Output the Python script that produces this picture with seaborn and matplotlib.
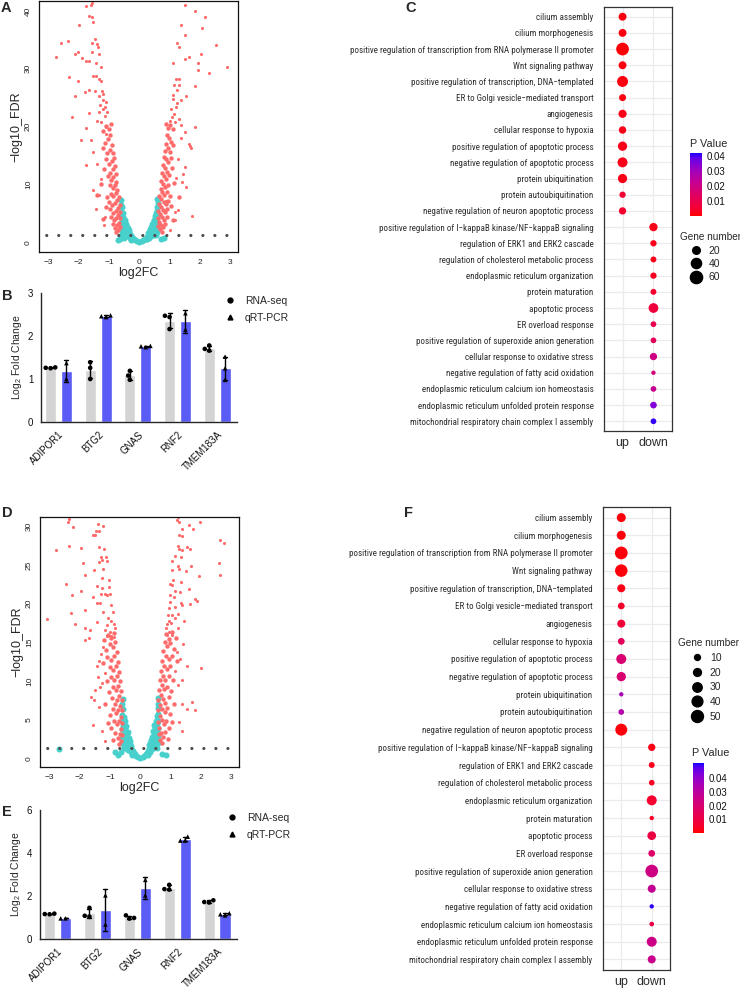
import matplotlib

matplotlib.use("Agg")

import matplotlib.pyplot as plt
import numpy as np
import pandas as pd
import seaborn as sns
from matplotlib import font_manager
from matplotlib.cm import ScalarMappable
from matplotlib.colors import ListedColormap, Normalize
from matplotlib.font_manager import FontProperties
from matplotlib.lines import Line2D

# ---------------------------------------------------------------- volcano A
# (log2FC, -log10 FDR); scattered genes far from the arms
A_OUT_L = [(-2.73, 32.0), (-2.58, 34.4), (-2.36, 34.8), (-2.31, 28.5), (-2.11, 32.6), (-2.0, 32.8),
           (-1.98, 37.6), (-2.0, 27.8), (-2.11, 25.2), (-2.2, 21.7), (-1.93, 17.7), (-1.76, 13.4),
           (-1.74, 40.9), (-1.6, 41.0), (-1.56, 41.4), (-1.67, 39.1), (-1.54, 38.9), (-1.52, 38.0),
           (-1.45, 35.1), (-1.56, 34.5), (-1.38, 34.3), (-1.36, 33.7), (-1.34, 32.5), (-1.74, 31.4),
           (-1.89, 31.8), (-1.65, 31.4), (-1.43, 30.9), (-1.52, 28.8), (-1.41, 28.7), (-1.32, 28.2),
           (-1.26, 27.9), (-1.67, 26.3), (-1.45, 26.2), (-1.23, 26.2), (-1.78, 25.9), (-1.32, 25.3),
           (-1.19, 24.5), (-1.67, 22.4), (-1.34, 22.5), (-1.12, 23.4), (-1.14, 21.8), (-1.1, 19.9),
           (-1.08, 18.7), (-1.75, 19.8), (-1.6, 17.6), (-1.51, 15.6), (-1.38, 13.6), (-1.51, 9.0),
           (-1.43, 5.8), (-1.16, 2.9), (-1.13, 4.4), (-1.26, 11.0), (-1.32, 8.1), (-1.27, 30.3),
           (-1.54, 32.9), (-1.2, 23.0), (-1.05, 22.5), (-1.25, 20.8), (-1.08, 24.2), (-1.18, 25.6),
           (-1.3, 23.8), (-1.38, 21.0)]
A_OUT_R = [(1.49, 41.0), (1.84, 39.9), (2.15, 39.0), (2.07, 37.0), (1.38, 37.6), (1.51, 35.8),
           (2.53, 34.1), (1.24, 34.4), (1.30, 33.7), (2.04, 32.6), (1.63, 32.1), (1.52, 31.6),
           (1.93, 31.0), (2.88, 30.3), (1.1, 30.9), (1.93, 29.8), (2.29, 29.2), (1.21, 28.2),
           (1.13, 27.2), (1.32, 27.1), (1.24, 26.3), (1.82, 27.0), (1.54, 25.2), (1.1, 25.5),
           (1.38, 24.5), (1.21, 23.3), (1.08, 21.7), (1.32, 21.3), (1.82, 20.0), (1.52, 19.0),
           (1.38, 18.0), (1.65, 17.0), (1.71, 16.3), (1.52, 13.0), (1.4, 10.4), (1.27, 14.3),
           (1.21, 11.1), (1.73, 4.5), (1.19, 5.2), (1.01, 2.1), (0.88, 7.1), (1.43, 11.8),
           (1.67, 16.7), (1.37, 20.3), (1.54, 9.5), (1.26, 5.5), (1.16, 3.8), (1.05, 23.0),
           (1.15, 22.2), (1.25, 24.0), (1.12, 24.8), (1.18, 20.8), (1.0, 21.0), (1.3, 28.2)]
# dense red arms just outside the fold-change cut
A_ARM_L = [(-0.92, 20.4), (-1.0, 19.6), (-1.08, 20.1), (-1.18, 19.2), (-0.95, 18.5), (-1.03, 17.8),
           (-1.12, 17.2), (-0.9, 16.8), (-0.97, 16.0), (-1.06, 15.4), (-0.86, 15.5), (-1.2, 16.2),
           (-0.84, 14.6), (-0.91, 14.1), (-0.99, 13.6), (-1.1, 14.4), (-0.81, 13.1), (-0.88, 12.6),
           (-0.95, 12.0), (-1.15, 12.7), (-0.78, 11.8), (-0.85, 11.2), (-0.92, 10.7), (-1.02, 11.4),
           (-0.75, 10.4), (-0.81, 9.8), (-0.88, 9.3), (-0.97, 9.8), (-1.25, 10.0), (-0.72, 9.0),
           (-0.78, 8.5), (-0.85, 8.0), (-0.93, 8.4), (-1.05, 7.8), (-0.68, 7.8), (-0.74, 7.3),
           (-0.81, 6.8), (-0.89, 6.4), (-0.99, 7.0), (-0.65, 6.5), (-0.71, 5.9), (-0.78, 5.4),
           (-0.86, 5.0), (-0.95, 5.7), (-0.63, 5.3), (-0.69, 4.7), (-0.75, 4.2), (-0.83, 3.8),
           (-0.92, 4.3), (-0.62, 4.1), (-0.67, 3.4), (-0.73, 2.9), (-0.8, 2.5), (-0.63, 2.7),
           (-0.69, 2.1), (-0.88, 3.1), (-0.76, 1.8), (-1.1, 6.1), (-1.18, 4.0), (-1.4, 8.2)]
A_ARM_R = [(0.88, 20.5), (0.95, 19.8), (1.02, 20.2), (1.1, 19.5), (0.9, 18.6), (0.98, 18.0),
           (1.05, 17.4), (0.87, 17.0), (0.93, 16.2), (1.0, 15.6), (0.84, 15.8), (1.12, 16.8),
           (0.8, 14.8), (0.88, 14.3), (0.95, 13.8), (1.03, 14.6), (0.78, 13.4), (0.85, 12.9),
           (0.92, 12.2), (1.08, 12.8), (0.76, 12.0), (0.82, 11.4), (0.89, 10.9), (0.98, 11.6),
           (0.72, 10.6), (0.79, 10.0), (0.86, 9.5), (0.94, 9.9), (1.15, 10.2), (0.7, 9.2),
           (0.75, 8.6), (0.83, 8.1), (0.9, 8.6), (1.0, 8.0), (0.66, 8.0), (0.72, 7.4),
           (0.8, 7.0), (0.87, 6.6), (0.95, 7.2), (0.64, 6.6), (0.7, 6.0), (0.77, 5.6),
           (0.84, 5.2), (0.92, 5.8), (0.62, 5.4), (0.68, 4.8), (0.74, 4.3), (0.81, 3.9),
           (0.9, 4.4), (0.61, 4.2), (0.66, 3.5), (0.72, 3.0), (0.78, 2.6), (0.62, 2.8),
           (0.68, 2.2), (0.86, 3.2), (0.75, 1.8), (1.05, 6.3), (1.12, 3.9), (1.3, 7.8)]
# not significant genes (turquoise)
A_NS = [(-0.6, 7.3), (-0.61, 6.5), (-0.58, 6.0), (-0.6, 5.2), (-0.55, 5.0), (-0.6, 4.3), (-0.56, 4.0),
        (-0.52, 4.4), (-0.6, 3.4), (-0.55, 3.1), (-0.5, 3.5), (-0.47, 3.8), (-0.6, 2.5), (-0.55, 2.3),
        (-0.5, 2.6), (-0.45, 2.9), (-0.42, 3.1), (-0.58, 1.7), (-0.52, 1.6), (-0.47, 2.0), (-0.42, 2.3),
        (-0.38, 2.5), (-0.35, 2.1), (-0.55, 1.1), (-0.48, 1.2), (-0.43, 1.5), (-0.38, 1.8), (-0.33, 1.7),
        (-0.3, 1.4), (-0.4, 1.0), (-0.35, 1.2), (-0.28, 1.0), (-0.25, 0.9), (-0.32, 0.7), (-0.22, 0.6),
        (-0.18, 0.5), (-0.26, 0.45), (-0.13, 0.3), (-0.08, 0.12), (-0.6, 1.0), (-0.65, 0.5),
        (-0.7, 0.4), (-0.5, 0.8), (0.6, 7.5), (0.61, 6.8), (0.58, 6.1), (0.6, 5.4), (0.55, 5.1),
        (0.6, 4.5), (0.56, 4.1), (0.52, 4.6), (0.6, 3.5), (0.55, 3.2), (0.5, 3.6), (0.47, 3.9),
        (0.6, 2.6), (0.55, 2.4), (0.5, 2.7), (0.45, 3.0), (0.42, 3.2), (0.58, 1.8), (0.52, 1.7),
        (0.47, 2.1), (0.42, 2.4), (0.38, 2.6), (0.35, 2.2), (0.55, 1.2), (0.48, 1.3), (0.43, 1.6),
        (0.38, 1.9), (0.33, 1.8), (0.3, 1.5), (0.4, 1.1), (0.35, 1.3), (0.28, 1.1), (0.25, 0.9),
        (0.32, 0.75), (0.22, 0.6), (0.18, 0.5), (0.26, 0.5), (0.13, 0.3), (0.08, 0.12), (0.0, 0.0),
        (0.7, 0.6), (0.8, 0.8)]

# ---------------------------------------------------------------- volcano D
D_OUT_L = [(-2.36, 31.0), (-2.38, 30.6), (-2.21, 29.9), (-1.39, 30.3), (-1.46, 29.4), (-1.37, 29.4),
           (-1.22, 30.0), (-1.54, 28.9), (-1.48, 28.9), (-2.36, 27.5), (-2.77, 26.9), (-1.94, 27.2),
           (-1.35, 27.3), (-1.18, 27.1), (-1.3, 26.0), (-1.13, 26.0), (-1.26, 25.7), (-1.35, 25.4),
           (-1.1, 25.5), (-1.89, 25.2), (-1.52, 24.3), (-1.23, 24.5), (-1.83, 23.7), (-1.26, 23.3),
           (-1.02, 23.1), (-2.43, 22.5), (-2.25, 21.1), (-1.94, 21.6), (-1.41, 22.3), (-1.26, 22.0),
           (-1.04, 22.2), (-1.15, 21.3), (-1.54, 20.9), (-1.28, 21.2), (-1.11, 21.1), (-0.99, 21.3),
           (-1.32, 20.1), (-1.41, 20.1), (-2.27, 18.8), (-0.95, 19.8), (-3.07, 18.0), (-1.81, 19.2),
           (-1.21, 18.9), (-0.91, 18.9), (-2.16, 17.4), (-1.43, 17.6), (-1.06, 18.1), (-0.95, 17.7),
           (-1.81, 16.8), (-1.1, 17.2), (-0.88, 17.4), (-1.64, 16.6), (-1.15, 16.6), (-0.99, 16.3),
           (-0.84, 16.8), (-0.95, 15.8), (-1.1, 15.8), (-0.88, 15.7), (-1.7, 15.6), (-1.43, 11.9),
           (-1.4, 10.5), (-1.61, 7.9), (-1.52, 7.5), (-1.37, 6.7), (-1.57, 4.3), (-1.26, 3.6),
           (-1.17, 2.3), (-1.48, 8.8), (-1.32, 9.2), (-1.81, 15.3), (-1.3, 13.5), (-1.22, 14.4),
           (-1.35, 12.6), (-1.15, 11.0), (-1.25, 9.8)]
D_OUT_R = [(1.24, 31.2), (1.21, 30.8), (1.28, 30.6), (1.96, 30.6), (1.61, 30.2), (1.75, 29.6),
           (1.39, 29.7), (1.28, 28.9), (1.37, 28.8), (2.74, 27.9), (2.64, 28.2), (1.24, 27.5),
           (1.26, 27.1), (1.37, 27.0), (1.54, 27.3), (1.65, 27.1), (1.15, 26.2), (1.34, 26.0),
           (2.58, 25.3), (1.06, 25.5), (1.24, 24.9), (1.68, 24.9), (1.04, 24.3), (1.26, 24.5),
           (1.5, 24.2), (2.64, 23.7), (1.92, 23.6), (1.09, 23.1), (0.99, 22.6), (1.04, 22.4),
           (1.35, 22.8), (1.15, 21.6), (1.32, 21.5), (1.59, 21.9), (0.99, 21.1), (1.1, 20.9),
           (1.81, 20.6), (1.86, 20.3), (0.99, 20.2), (1.35, 20.1), (1.65, 20.0), (0.93, 19.4),
           (1.13, 19.6), (1.39, 19.8), (0.91, 18.6), (1.06, 18.5), (1.24, 18.7), (0.93, 17.8),
           (1.13, 18.1), (1.43, 17.8), (0.88, 17.4), (1.02, 17.5), (0.84, 16.8), (0.93, 16.4),
           (1.24, 16.9), (0.88, 15.9), (1.04, 16.0), (1.54, 12.0), (2.0, 11.7), (1.37, 10.1),
           (1.7, 7.3), (1.79, 6.2), (1.54, 6.4), (1.26, 4.7), (1.37, 3.6), (1.37, 7.1),
           (1.2, 13.8), (1.3, 12.8), (1.15, 11.3), (1.4, 14.8), (1.25, 9.5)]
D_ARM_L = [(-0.88, 16.2), (-0.97, 15.6), (-1.05, 16.0), (-1.18, 15.3), (-0.82, 15.0), (-0.9, 14.4),
           (-1.0, 14.8), (-1.12, 14.0), (-0.78, 13.8), (-0.86, 13.2), (-0.95, 12.7), (-1.08, 13.1),
           (-1.22, 12.4), (-0.74, 12.5), (-0.81, 11.9), (-0.9, 11.4), (-1.0, 11.8), (-0.7, 11.2),
           (-0.77, 10.6), (-0.85, 10.1), (-0.95, 10.5), (-1.1, 10.0), (-0.66, 10.0), (-0.72, 9.4),
           (-0.8, 8.9), (-0.9, 9.2), (-1.02, 8.6), (-0.63, 8.7), (-0.69, 8.1), (-0.76, 7.6),
           (-0.84, 7.1), (-0.94, 7.8), (-0.6, 7.5), (-0.66, 6.8), (-0.73, 6.3), (-0.81, 5.9),
           (-0.9, 6.4), (-1.0, 5.6), (-0.6, 6.2), (-0.64, 5.4), (-0.7, 4.9), (-0.77, 4.4),
           (-0.86, 4.8), (-0.95, 3.9), (-0.59, 4.6), (-0.63, 3.8), (-0.68, 3.2), (-0.74, 2.7),
           (-0.82, 3.3), (-0.6, 3.0), (-0.65, 2.3), (-0.71, 1.9), (-0.9, 2.4), (-1.05, 4.6),
           (-1.15, 7.0)]
D_ARM_R = [(0.86, 16.1), (0.95, 15.5), (1.04, 16.3), (1.16, 15.6), (0.8, 15.1), (0.88, 14.5),
           (0.98, 14.9), (1.1, 14.1), (0.76, 13.9), (0.84, 13.3), (0.93, 12.8), (1.06, 13.2),
           (1.2, 12.6), (0.72, 12.6), (0.79, 12.0), (0.88, 11.5), (0.98, 11.9), (0.68, 11.3),
           (0.75, 10.7), (0.83, 10.2), (0.93, 10.6), (1.08, 10.1), (0.65, 10.1), (0.71, 9.5),
           (0.78, 9.0), (0.88, 9.3), (1.0, 8.7), (0.63, 8.8), (0.68, 8.2), (0.75, 7.7),
           (0.83, 7.2), (0.93, 7.9), (0.6, 7.6), (0.65, 6.9), (0.72, 6.4), (0.8, 6.0),
           (0.89, 6.5), (0.99, 5.7), (0.6, 6.3), (0.64, 5.5), (0.7, 5.0), (0.77, 4.5),
           (0.85, 4.9), (0.94, 4.0), (0.6, 4.7), (0.63, 3.9), (0.68, 3.3), (0.74, 2.8),
           (0.82, 3.4), (0.61, 3.1), (0.66, 2.4), (0.72, 2.0), (0.9, 2.5), (1.04, 4.7),
           (1.12, 7.1)]
D_NS = [(-0.58, 7.7), (-0.6, 7.0), (-0.57, 6.4), (-0.6, 5.6), (-0.54, 5.4), (-0.6, 4.8), (-0.56, 4.3),
        (-0.51, 4.8), (-0.6, 3.8), (-0.55, 3.4), (-0.5, 3.8), (-0.46, 4.2), (-0.6, 2.8), (-0.55, 2.5),
        (-0.5, 2.8), (-0.45, 3.1), (-0.41, 3.4), (-0.58, 1.9), (-0.52, 1.8), (-0.47, 2.2), (-0.42, 2.5),
        (-0.38, 2.7), (-0.35, 2.3), (-0.55, 1.3), (-0.48, 1.4), (-0.43, 1.7), (-0.38, 1.9), (-0.33, 1.9),
        (-0.3, 1.6), (-0.4, 1.1), (-0.35, 1.3), (-0.28, 1.1), (-0.25, 1.0), (-0.32, 0.8), (-0.22, 0.7),
        (-0.18, 0.55), (-0.26, 0.5), (-0.13, 0.35), (-0.08, 0.15), (-0.65, 0.8), (-0.72, 0.5),
        (-0.82, 0.9), (-2.66, 1.2), (0.59, 7.8), (0.6, 7.1), (0.57, 6.5), (0.6, 5.7), (0.54, 5.5),
        (0.6, 4.9), (0.56, 4.4), (0.51, 4.9), (0.6, 3.9), (0.55, 3.5), (0.5, 3.9), (0.46, 4.3),
        (0.6, 2.9), (0.55, 2.6), (0.5, 2.9), (0.45, 3.2), (0.41, 3.5), (0.58, 2.0), (0.52, 1.9),
        (0.47, 2.3), (0.42, 2.6), (0.38, 2.8), (0.35, 2.4), (0.55, 1.4), (0.48, 1.5), (0.43, 1.8),
        (0.38, 2.0), (0.33, 2.0), (0.3, 1.7), (0.4, 1.2), (0.35, 1.4), (0.28, 1.2), (0.25, 1.0),
        (0.32, 0.85), (0.22, 0.7), (0.18, 0.55), (0.26, 0.5), (0.13, 0.35), (0.08, 0.15), (0.0, 0.0),
        (0.7, 0.6), (0.85, 0.4)]

FDR_LINE = 1.3  # -log10(0.05)
VOLCANO_XTICKS = [-3, -2, -1, 0, 1, 2, 3]

# ---------------------------------------------------------------- qPCR bars
GENES = ["ADIPOR1", "BTG2", "GNAS", "RNF2", "TMEM183A"]
METHODS = ["RNA-seq", "qRT-PCR"]
B_RNA_SEQ = [[1.25, 1.27, 1.26], [1.39, 1.26, 1.0], [1.19, 1.08, 0.98], [2.47, 2.44, 2.16], [1.78, 1.70, 1.66]]
B_QPCR = [[1.37, 1.0], [2.44, 2.46, 2.48], [1.74, 1.76, 1.77], [2.53, 2.15], [1.52, 1.25, 0.98]]
E_RNA_SEQ = [[1.18, 1.16, 1.15], [1.45, 1.08, 1.04], [1.1, 0.98, 0.95], [2.52, 2.32, 2.3], [1.8, 1.72, 1.7]]
E_QPCR = [[0.96, 0.96], [2.03, 0.67], [2.75, 2.03], [4.76, 4.58, 4.58], [1.2, 1.15, 1.1]]

# ---------------------------------------------------------------- GO dot plots
TERMS = [
    "cilium assembly",
    "cilium morphogenesis",
    "positive regulation of transcription from RNA polymerase II promoter",
    "Wnt signaling pathway",
    "positive regulation of transcription, DNA\u2212templated",
    "ER to Golgi vesicle\u2212mediated transport",
    "angiogenesis",
    "cellular response to hypoxia",
    "positive regulation of apoptotic process",
    "negative regulation of apoptotic process",
    "protein ubiquitination",
    "protein autoubiquitination",
    "negative regulation of neuron apoptotic process",
    "positive regulation of I\u2212kappaB kinase/NF\u2212kappaB signaling",
    "regulation of ERK1 and ERK2 cascade",
    "regulation of cholesterol metabolic process",
    "endoplasmic reticulum organization",
    "protein maturation",
    "apoptotic process",
    "ER overload response",
    "positive regulation of superoxide anion generation",
    "cellular response to oxidative stress",
    "negative regulation of fatty acid oxidation",
    "endoplasmic reticulum calcium ion homeostasis",
    "endoplasmic reticulum unfolded protein response",
    "mitochondrial respiratory chain complex I assembly",
]
DIRECTIONS = ["up"] * 13 + ["down"] * 13
C_COUNT = [22, 22, 65, 22, 47, 16, 24, 19, 32, 38, 32, 12, 18,
           25, 12, 10, 12, 10, 36, 9, 9, 18, 3, 9, 14, 9]
C_PVAL = [0.001, 0.001, 0.0005, 0.001, 0.001, 0.001, 0.002, 0.002, 0.002, 0.002, 0.002, 0.006, 0.005,
          0.002, 0.002, 0.002, 0.003, 0.005, 0.007, 0.01, 0.012, 0.02, 0.018, 0.022, 0.035, 0.041]
F_COUNT = [27, 27, 57, 55, 21, 14, 21, 14, 34, 29, 4, 9, 50,
           17, 10, 9, 34, 4, 25, 14, 57, 21, 4, 5, 34, 21]
F_PVAL = [0.001, 0.001, 0.001, 0.001, 0.002, 0.005, 0.008, 0.015, 0.02, 0.02, 0.035, 0.033, 0.001,
          0.002, 0.003, 0.004, 0.006, 0.004, 0.01, 0.018, 0.024, 0.028, 0.05, 0.01, 0.025, 0.026]
C_SIZE_BREAKS = [20, 40, 60]
F_SIZE_BREAKS = [10, 20, 30, 40, 50]
PVAL_TICKS = [0.01, 0.02, 0.03, 0.04]

RED = "#ff6b6b"
TURQUOISE = "#48d1cc"
BAR_COLORS = {"RNA-seq": "#d4d4d4", "qRT-PCR": "#5b5bf5"}
MARKERS = ["o", "^"]

W, H = 740, 988
LONGEST_LABEL_PX = 243  # width of the longest GO term in the reference


def fig_rect(left, top, right, bottom):
    """Pixel box of the reference -> figure fraction rect."""
    return [left / W, 1 - bottom / H, (right - left) / W, (bottom - top) / H]


def red_blue_lab(n=256):
    # ggplot2 style red -> blue gradient, interpolated in CIELAB
    red = np.array([53.24, 80.09, 67.20])
    blue = np.array([32.30, 79.19, -107.86])
    t = np.linspace(0, 1, n)[:, None]
    L, a, b = (red + t * (blue - red)).T
    fy = (L + 16) / 116
    fx = fy + a / 500
    fz = fy - b / 200

    def finv(f):
        return np.where(f > 6 / 29, f ** 3, 3 * (6 / 29) ** 2 * (f - 4 / 29))

    xyz = np.stack([0.95047 * finv(fx), finv(fy), 1.08883 * finv(fz)])
    m = np.array([[3.2406, -1.5372, -0.4986], [-0.9689, 1.8758, 0.0415], [0.0557, -0.2040, 1.0570]])
    lin = np.clip(m @ xyz, 0, 1)
    rgb = np.where(lin > 0.0031308, 1.055 * lin ** (1 / 2.4) - 0.055, 12.92 * lin)
    return ListedColormap(np.clip(rgb, 0, 1).T)


PVAL_CMAP = red_blue_lab()


def narrow_font():
    """Pick a condensed sans face if one is installed, else Liberation Sans."""
    fonts = font_manager.fontManager.ttflist
    wanted = ["Liberation Sans Narrow", "Roboto Condensed", "Open Sans Condensed", "Noto Sans Condensed",
              "Arial Narrow"]
    for name in wanted:
        for f in fonts:
            if f.name == name and f.style == "normal" and f.weight in (400, "normal", "regular"):
                return FontProperties(fname=f.fname)
    for f in fonts:
        if f.stretch in ("condensed", "semi-condensed") and f.style == "normal" \
                and f.weight in (400, "normal", "regular") and "Sans" in f.name:
            return FontProperties(fname=f.fname)
    return FontProperties(family="Liberation Sans")


def draw_volcano(ax, outliers, arms, ns, ylim, yticks):
    outliers = np.asarray(outliers)
    arms = np.asarray(arms)
    ns = np.asarray(ns)
    sns.scatterplot(x=ns[:, 0], y=ns[:, 1], color=TURQUOISE, s=19, linewidth=0, ax=ax)
    sns.scatterplot(x=arms[:, 0], y=arms[:, 1], color=RED, s=10, linewidth=0, ax=ax)
    sns.scatterplot(x=outliers[:, 0], y=outliers[:, 1], color=RED, s=5, linewidth=0, ax=ax)
    ax.axhline(FDR_LINE, color="#4d4d4d", lw=2.3, linestyle=(1.5, (0.01, 3.75)),
               dash_capstyle="round", zorder=4)
    ax.set_xlim(-3.3, 3.25)
    ax.set_ylim(*ylim)
    ax.set_xticks(VOLCANO_XTICKS)
    ax.set_xticklabels([str(t).replace("-", "\u2212") for t in VOLCANO_XTICKS])
    ax.set_yticks(yticks)
    ax.set_yticklabels([str(t) for t in yticks], rotation=90, va="center")
    ax.tick_params(labelsize=6, length=3, width=0.7, pad=2, colors="#222222")
    for side in ax.spines.values():
        side.set_visible(True)
        side.set_linewidth(0.9)
        side.set_color("#111111")
    ax.set_xlabel("log2FC", fontsize=9, labelpad=1)
    ax.set_ylabel("\u2212log10_FDR", fontsize=9, labelpad=2)


def draw_bars(ax, rna, qpcr, ymax, yticks):
    rows = []
    for method, reps in zip(METHODS, (rna, qpcr)):
        for gene, vals in zip(GENES, reps):
            rows += [(gene, method, v) for v in vals]
    df = pd.DataFrame(rows, columns=["gene", "method", "value"])

    sns.barplot(data=df, x="gene", y="value", hue="method", order=GENES, hue_order=METHODS,
                palette=BAR_COLORS, saturation=1, width=0.8, gap=0.3, errorbar="sd",
                capsize=0.2, err_kws={"color": "black", "linewidth": 1.0}, legend=False, ax=ax)
    for method, marker in zip(METHODS, MARKERS):
        sns.swarmplot(data=df[df["method"] == method], x="gene", y="value", hue="method",
                      order=GENES, hue_order=METHODS, dodge=True,
                      palette={m: "black" for m in METHODS}, marker=marker, size=3.3,
                      linewidth=0, legend=False, ax=ax)

    ax.set_xlim(-0.44, 4.5)
    ax.set_ylim(0, ymax)
    ax.set_yticks(yticks)
    ax.set_xticks(range(len(GENES)))
    ax.set_xticklabels(GENES, rotation=45, ha="right", rotation_mode="anchor")
    ax.tick_params(labelsize=7, length=3.5, width=1, pad=2, colors="#111111")
    sns.despine(ax=ax)
    for side in ("left", "bottom"):
        ax.spines[side].set_linewidth(1)
    ax.set_xlabel("")
    ax.set_ylabel("Log$_2$ Fold Change", fontsize=7.5, labelpad=3)


def add_method_legend(ax, left, top):
    handles = [Line2D([], [], marker=m, color="black", linestyle="", markersize=3.5) for m in MARKERS]
    ax.legend(handles, METHODS, loc="upper left", bbox_to_anchor=(left / W, 1 - top / H),
              bbox_transform=ax.figure.transFigure, frameon=False, fontsize=7.5,
              handlelength=0.8, handletextpad=1.0, labelspacing=0.65, borderpad=0, borderaxespad=0)


def draw_dots(ax, counts, pvals, pmax, sizes, label_font):
    df = pd.DataFrame({"term": TERMS, "direction": DIRECTIONS, "count": counts, "p": pvals})
    sns.scatterplot(data=df, x="direction", y="term", hue="p", size="count",
                    palette=PVAL_CMAP, hue_norm=(0, pmax), sizes=sizes, size_norm=(0, 100),
                    linewidth=0, legend=False, zorder=3, ax=ax)
    ax.set_xlim(-0.6, 1.6)
    ax.set_ylim(len(TERMS) - 0.4, -0.6)
    ax.grid(True, color="#ebebeb", linewidth=0.9)
    ax.set_axisbelow(True)
    for side in ax.spines.values():
        side.set_visible(True)
        side.set_color("#333333")
        side.set_linewidth(0.9)
    ax.tick_params(axis="y", length=2.5, width=0.6, pad=5, colors="#333333", labelcolor="#2e2e2e")
    ax.tick_params(axis="x", length=2.5, width=0.6, pad=2, colors="#333333",
                   labelcolor="#2e2e2e", labelsize=9)
    for lab in ax.get_yticklabels():
        lab.set_fontproperties(label_font)
    ax.set_xlabel("")
    ax.set_ylabel("")


def add_size_legend(ax, breaks, sizes, left, top, spacing):
    smin, smax = sizes
    handles = [Line2D([], [], marker="o", color="black", linestyle="",
                      markersize=np.sqrt(smin + n / 100 * (smax - smin))) for n in breaks]
    ax.legend(handles, [str(n) for n in breaks], loc="upper left",
              bbox_to_anchor=(left / W, 1 - top / H), bbox_transform=ax.figure.transFigure,
              frameon=False, fontsize=7.5, handlelength=1.2, handletextpad=0.6,
              labelspacing=spacing, borderpad=0, borderaxespad=0)


def add_colorbar(fig, rect, pmax):
    cax = fig.add_axes(rect)
    cb = fig.colorbar(ScalarMappable(norm=Normalize(0, pmax), cmap=PVAL_CMAP), cax=cax)
    cb.outline.set_visible(False)
    cb.set_ticks(PVAL_TICKS)
    cb.set_ticklabels([f"{t:.2f}" for t in PVAL_TICKS])
    cax.tick_params(length=2.5, width=0.8, color="white", direction="in", labelsize=7,
                    labelcolor="#111111", pad=3, left=True, right=True)
    return cb


def main():
    sns.set_style("white")
    plt.rcParams["font.family"] = ["Liberation Sans", "DejaVu Sans"]
    plt.rcParams["mathtext.default"] = "regular"

    fig = plt.figure(figsize=(W / 100, H / 100), dpi=100)

    # size the GO labels so the longest one spans the same width as in the reference
    label_font = narrow_font()
    probe = fig.text(0, 0, TERMS[2], fontproperties=label_font, fontsize=10)
    width10 = probe.get_window_extent(fig.canvas.get_renderer()).width
    probe.remove()
    label_font.set_size(10 * LONGEST_LABEL_PX / width10)

    # A / D volcano plots
    ax_a = fig.add_axes(fig_rect(39, 1, 238, 252))
    draw_volcano(ax_a, A_OUT_L + A_OUT_R, A_ARM_L + A_ARM_R, A_NS, (-1.7, 41.7), [0, 10, 20, 30, 40])
    ax_d = fig.add_axes(fig_rect(40, 517, 239, 767))
    draw_volcano(ax_d, D_OUT_L + D_OUT_R, D_ARM_L + D_ARM_R, D_NS, (-1.1, 31.2), [0, 5, 10, 15, 20, 25, 30])

    # B / E validation bars
    ax_b = fig.add_axes(fig_rect(41, 293, 237, 422))
    draw_bars(ax_b, B_RNA_SEQ, B_QPCR, 3, [0, 1, 2, 3])
    add_method_legend(ax_b, 226, 296)
    ax_e = fig.add_axes(fig_rect(40, 810, 237, 939))
    draw_bars(ax_e, E_RNA_SEQ, E_QPCR, 6, [0, 2, 4, 6])
    add_method_legend(ax_e, 228, 813)

    # C / F GO enrichment
    c_sizes = (0.5184 * 12, 0.5184 * 242)
    ax_c = fig.add_axes(fig_rect(604, 7, 672, 431))
    draw_dots(ax_c, C_COUNT, C_PVAL, 0.042, c_sizes, label_font)
    add_colorbar(fig, fig_rect(690, 153, 702, 216), 0.042)
    fig.text(690 / W, 1 - 144 / H, "P Value", fontsize=7.8, va="center", ha="left")
    fig.text(680 / W, 1 - 237 / H, "Gene number", fontsize=7.2, va="center", ha="left")
    add_size_legend(ax_c, C_SIZE_BREAKS, c_sizes, 690, 246, 0.3)

    f_sizes = (0.5184 * 8, 0.5184 * 278)
    ax_f = fig.add_axes(fig_rect(603, 507, 670, 970))
    draw_dots(ax_f, F_COUNT, F_PVAL, 0.051, f_sizes, label_font)
    add_colorbar(fig, fig_rect(693, 763, 704, 833), 0.051)
    fig.text(692 / W, 1 - 753 / H, "P Value", fontsize=7.8, va="center", ha="left")
    fig.text(678 / W, 1 - 643 / H, "Gene number", fontsize=7.2, va="center", ha="left")
    add_size_legend(ax_f, F_SIZE_BREAKS, f_sizes, 691, 653, 0.45)

    # panel letters
    for letter, x, y in [("A", 1, 8), ("B", 2, 296), ("C", 405, 8), ("D", 2, 513), ("E", 2, 812), ("F", 404, 513)]:
        fig.text(x / W, 1 - y / H, letter, fontsize=10.5, fontweight="bold", va="center", ha="left")

    fig.savefig("out.png", dpi=100)
    plt.close(fig)


if __name__ == "__main__":
    main()
